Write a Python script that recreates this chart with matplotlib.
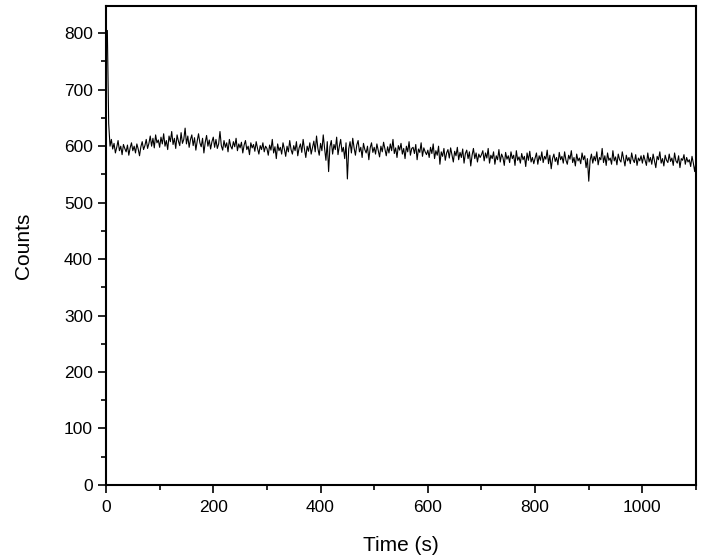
import numpy as np
import matplotlib
matplotlib.use("Agg")
import matplotlib.pyplot as plt
from matplotlib.ticker import MultipleLocator

plt.rcParams['font.family'] = ['Liberation Sans', 'DejaVu Sans']

# counts, one value every 2.5 s from 0 to 1100 s
time_s = np.arange(0, 1100.1, 2.5)
counts = [
    790, 805, 640, 600, 612, 595, 605, 588, 598, 610, 592, 600, 585, 603, 596, 590, 602, 584, 597, 606,
    592, 600, 588, 604, 595, 583, 599, 608, 594, 601, 612, 596, 605, 618, 600, 614, 597, 620, 606, 611,
    598, 616, 604, 622, 600, 610, 594, 618, 608, 626, 603, 614, 596, 620, 609, 601, 624, 605, 612, 632,
    604, 618, 598, 612, 620, 601, 615, 593, 609, 622, 606, 599, 614, 588, 607, 619, 600, 611, 595, 608,
    616, 598, 612, 596, 604, 626, 601, 593, 610, 598, 606, 590, 612, 600, 595, 608, 599, 614, 592, 604,
    597, 607, 588, 602, 610, 594, 600, 585, 606, 597, 603, 591, 608, 596, 586, 601, 594, 606, 590, 600,
    596, 584, 602, 593, 612, 588, 599, 578, 604, 592, 598, 586, 606, 595, 582, 600, 590, 610, 594, 586,
    601, 592, 608, 583, 597, 604, 589, 612, 595, 580, 600, 591, 606, 586, 598, 609, 590, 618, 596, 584,
    605, 592, 620, 596, 575, 608, 555, 599, 610, 586, 603, 594, 616, 585, 600, 612, 590, 598, 578, 606,
    542, 595, 608, 588, 614, 597, 584, 602, 610, 590, 598, 580, 605, 594, 588, 600, 576, 597, 606, 589,
    598, 586, 604, 592, 581, 600, 590, 607, 595, 583, 599, 588, 604, 592, 612, 587, 597, 580, 601, 593,
    605, 586, 596, 578, 600, 590, 608, 584, 596, 598, 587, 603, 576, 595, 589, 606, 582, 597, 590, 585,
    593, 580, 598, 587, 604, 578, 592, 584, 600, 568, 590, 582, 596, 575, 588, 594, 579, 597, 585, 572,
    591, 583, 598, 576, 589, 580, 595, 570, 587, 593, 578, 590, 565, 584, 596, 578, 588, 572, 586, 580,
    585, 592, 574, 588, 579, 596, 570, 584, 578, 590, 568, 583, 576, 594, 572, 586, 580, 566, 589, 577,
    583, 571, 590, 578, 584, 566, 592, 575, 581, 570, 587, 576, 582, 564, 588, 575, 591, 572, 580, 569,
    579, 588, 568, 583, 575, 590, 571, 582, 577, 593, 569, 584, 560, 578, 586, 573, 580, 567, 589, 576,
    582, 570, 590, 575, 568, 584, 577, 592, 571, 580, 565, 586, 574, 579, 569, 588, 576, 583, 562, 578,
    538, 575, 586, 570, 582, 574, 590, 567, 580, 576, 596, 571, 583, 566, 588, 575, 579, 568, 592, 574,
    581, 567, 586, 576, 572, 590, 578, 565, 584, 574, 580, 569, 588, 576, 571, 585, 566, 579, 574, 583,
    570, 584, 575, 566, 588, 572, 580, 568, 586, 574, 562, 582, 576, 590, 570, 578, 565, 584, 575, 571,
    586, 573, 579, 566, 588, 574, 570, 583, 562, 578, 575, 585, 568, 580, 572, 576, 564, 582, 570, 555,
    574,
]

fig = plt.figure(figsize=(7.02, 5.60), dpi=100)
ax = fig.add_axes([0.151, 0.134, 0.8405, 0.855])
ax.plot(time_s, counts, color='black', lw=0.8)

ax.set_xlim(0, 1100)
ax.set_ylim(0, 848)
ax.xaxis.set_major_locator(MultipleLocator(200))
ax.xaxis.set_minor_locator(MultipleLocator(100))
ax.yaxis.set_major_locator(MultipleLocator(100))
ax.yaxis.set_minor_locator(MultipleLocator(50))
ax.tick_params(which='both', direction='out', width=1.2, labelsize=12.5, top=False, right=False)
ax.tick_params(which='major', length=6)
ax.tick_params(which='minor', length=3.5)
ax.tick_params(axis='x', pad=5)
for s in ax.spines.values():
    s.set_linewidth(1.5)

ax.set_xlabel('Time (s)', fontsize=15, labelpad=15)
ax.set_ylabel('Counts', fontsize=15, labelpad=22)

fig.savefig('out.png', dpi=100)
